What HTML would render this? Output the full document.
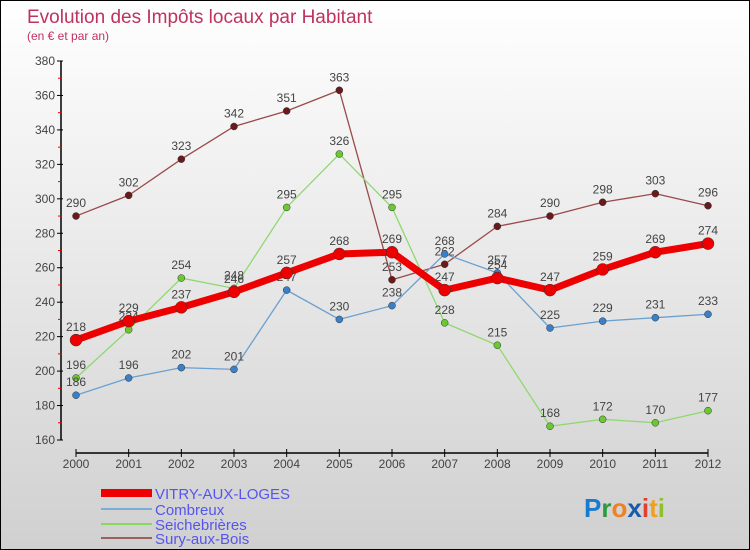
<!DOCTYPE html>
<html><head><meta charset="utf-8"><style>
body{margin:0;width:750px;height:550px;overflow:hidden;font-family:"Liberation Sans",sans-serif}
#wrap{position:relative;width:748px;height:548px;border:1px solid #000;background:linear-gradient(#ffffff,#d0d0d0)}
</style></head><body>
<div id="wrap">
<svg id="chart" width="748" height="548" style="position:absolute;left:0;top:0">
<text x="26" y="22" font-size="19" fill="#c0325e">Evolution des Impôts locaux par Habitant</text>
<text x="26" y="39" font-size="12" fill="#c0325e">(en € et par an)</text>
<g id="axes"></g><g id="series"></g>
<g font-size="15" fill="#5555ee">
<rect x="100" y="488" width="51" height="8" fill="#e00"/>
<text x="154" y="498">VITRY-AUX-LOGES</text>
<rect x="100" y="507" width="51" height="2" fill="#7aaed8"/>
<text x="154" y="514">Combreux</text>
<rect x="100" y="522" width="51" height="2" fill="#88d860"/>
<text x="154" y="529">Seichebrières</text>
<rect x="100" y="536" width="51" height="2" fill="#9a6060"/>
<text x="154" y="543">Sury-aux-Bois</text>
</g>
<text x="583" y="516" font-size="26" font-weight="bold"><tspan fill="#1a7acc">P</tspan><tspan fill="#2a9a40">r</tspan><tspan fill="#f08020">o</tspan><tspan fill="#1a5aaa">x</tspan><tspan fill="#e04030">i</tspan><tspan fill="#f0a020">t</tspan><tspan fill="#90c030">i</tspan></text>
</svg></div>
<script>
const years=[2000,2001,2002,2003,2004,2005,2006,2007,2008,2009,2010,2011,2012];
const vitry=[218,229,237,246,257,268,269,247,254,247,259,269,274];
const combreux=[186,196,202,201,247,230,238,268,257,225,229,231,233];
const seiche=[196,224,254,248,295,326,295,228,215,168,172,170,177];
const sury=[290,302,323,342,351,363,253,262,284,290,298,303,296];
const yTicks=[160,180,200,220,240,260,280,300,320,340,360,380];
const NS="http://www.w3.org/2000/svg";
const X=i=>75+i*(707-75)/12;
const Y=v=>439-(v-160)*(379/220);
function mk(t,a,p){const e=document.createElementNS(NS,t);for(const k in a)e.setAttribute(k,a[k]);p.appendChild(e);return e;}
const ax=document.getElementById('axes');
let l=mk('line',{x1:60,y1:Y(380),x2:60,y2:Y(160),stroke:'#000','stroke-width':1.5},ax);


yTicks.forEach(v=>{
 mk('line',{x1:56,y1:Y(v),x2:62,y2:Y(v),stroke:'#000'},ax);
 if(v<380)mk('line',{x1:57,y1:Y(v+10),x2:61,y2:Y(v+10),stroke:'#e00'},ax);
 const t=mk('text',{x:54,y:Y(v)+4,'font-size':12,'text-anchor':'end',fill:'#444'},ax);t.textContent=v;
 
 
});
l=mk('line',{x1:75,y1:452,x2:707,y2:452,stroke:'#000','stroke-width':1.5},ax);


years.forEach((y,i)=>{
 mk('line',{x1:X(i),y1:448,x2:X(i),y2:456,stroke:'#000'},ax);
 const t=mk('text',{x:X(i),y:467,'font-size':12,'text-anchor':'middle',fill:'#444'},ax);t.textContent=y;
 
 
});
const sg=document.getElementById('series');
function draw(data,name,col,dot,w,r){
 const g=mk('g',{},sg);
 
 
 const p=mk('polyline',{points:data.map((v,i)=>X(i)+','+Y(v)).join(' '),fill:'none',stroke:col,'stroke-width':w,'stroke-linejoin':'round'},g);
 
 
 data.forEach((v,i)=>{
  const c=mk('circle',{cx:X(i),cy:Y(v),r:r,fill:dot,stroke:'#333','stroke-width':0.5},g);
  
  
  const t=mk('text',{x:X(i),y:Y(v)-9,'font-size':12,'text-anchor':'middle',fill:'#444'},g);t.textContent=v;
  
  
 });
}
draw(sury,'sury','#9a4a4a','#6a1a1a',1.3,3.5);
draw(seiche,'seichebrieres','#90d870','#6ac830',1.3,3.5);
draw(combreux,'combreux','#6aa0d0','#3a80c8',1.3,3.5);
draw(vitry,'vitry','#ee0000','#ee0000',7,6);
</script>
</body></html>
